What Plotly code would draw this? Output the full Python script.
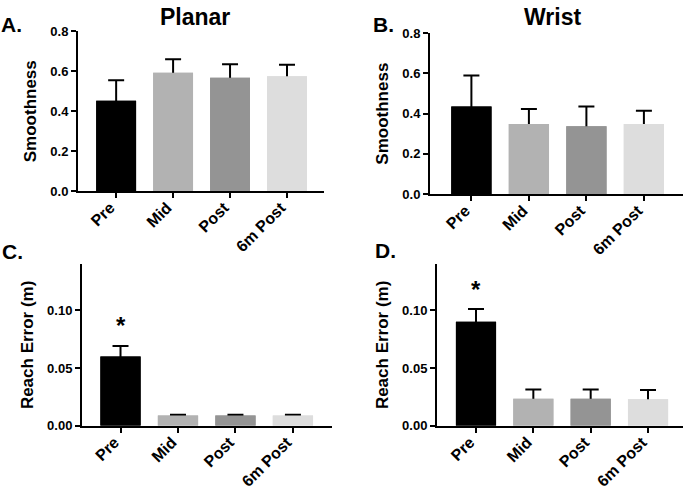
import plotly.graph_objects as go

categories = ["Pre", "Mid", "Post", "6m Post"]
colors = ["#000000", "#b2b2b2", "#949494", "#dddddd"]

planar_smooth = [0.452, 0.592, 0.567, 0.575]
planar_smooth_err = [0.103, 0.068, 0.068, 0.058]
wrist_smooth = [0.435, 0.348, 0.337, 0.348]
wrist_smooth_err = [0.155, 0.075, 0.098, 0.066]
planar_reach = [0.060, 0.0090, 0.0090, 0.0090]
planar_reach_err = [0.0090, 0.0005, 0.0005, 0.0005]
wrist_reach = [0.090, 0.0235, 0.0235, 0.0230]
wrist_reach_err = [0.0110, 0.0080, 0.0080, 0.0080]

sig_planar = [0.0865]
sig_wrist = [0.1175]

W, H = 687, 492
FONT = "Liberation Sans"

fig = go.Figure()

panels = [
    (planar_smooth, planar_smooth_err, "x", "y", (78, 324), (25, 190), [-0.67, 3.65], [0, 0.8],
     [0, 0.2, 0.4, 0.6, 0.8], ["0.0", "0.2", "0.4", "0.6", "0.8"], "Smoothness"),
    (wrist_smooth, wrist_smooth_err, "x2", "y2", (430, 683), (27, 193), [-0.72, 3.68], [0, 0.8],
     [0, 0.2, 0.4, 0.6, 0.8], ["0.0", "0.2", "0.4", "0.6", "0.8"], "Smoothness"),
    (planar_reach, planar_reach_err, "x3", "y3", (82, 332), (265, 432), [-0.67, 3.68], [0, 0.14],
     [0, 0.05, 0.10], ["0.00", "0.05", "0.10"], "Reach Error (m)"),
    (wrist_reach, wrist_reach_err, "x4", "y4", (437, 683), (265, 432), [-0.68, 3.61], [0, 0.14],
     [0, 0.05, 0.10], ["0.00", "0.05", "0.10"], "Reach Error (m)"),
]

for i, (vals, errs, xa, ya, xd, yd, xr, yr, tv, tt, ytitle) in enumerate(panels):
    xs = list(range(len(categories)))
    # error bars drawn first, so the bar on top hides their lower half
    fig.add_trace(go.Bar(
        x=xs, y=vals, width=0.7,
        marker=dict(color=colors, line=dict(width=0)),
        error_y=dict(type="data", array=errs, symmetric=True,
                     color="black", thickness=2, width=8),
        xaxis=xa, yaxis=ya, showlegend=False, hoverinfo="skip",
    ))
    fig.add_trace(go.Bar(
        x=xs, y=vals, width=0.7,
        marker=dict(color=colors, line=dict(width=0)),
        xaxis=xa, yaxis=ya, showlegend=False,
    ))
    suffix = "" if i == 0 else str(i + 1)
    fig.layout["xaxis" + suffix] = dict(
        domain=[xd[0] / W, xd[1] / W], range=xr, anchor=ya,
        tickmode="array", tickvals=xs, ticktext=categories,
        tickangle=-45, ticks="outside", ticklen=5, tickwidth=2, tickcolor="black",
        ticklabelstandoff=-6, ticklabelshift=-6,
        showline=True, linewidth=2, linecolor="black", showgrid=False, zeroline=False,
        tickfont=dict(family=FONT, size=16, color="black", weight=700), fixedrange=True,
    )
    fig.layout["yaxis" + suffix] = dict(
        domain=[1 - yd[1] / H, 1 - yd[0] / H], range=yr, anchor=xa,
        tickmode="array", tickvals=tv, ticktext=tt,
        ticks="outside", ticklen=5, tickwidth=2, tickcolor="black",
        showline=True, linewidth=2, linecolor="black", showgrid=False, zeroline=False,
        tickfont=dict(family=FONT, size=13, color="black", weight=700),
        title=dict(text=ytitle, font=dict(family=FONT, size=17, color="black", weight=700), standoff=9),
        fixedrange=True,
    )

annotations = [
    dict(text="Planar", x=195 / W, y=1 - 10 / H, xref="paper", yref="paper", showarrow=False,
         font=dict(family=FONT, size=23, color="black", weight=700), xanchor="center", yanchor="middle"),
    dict(text="Wrist", x=552 / W, y=1 - 10 / H, xref="paper", yref="paper", showarrow=False,
         font=dict(family=FONT, size=23, color="black", weight=700), xanchor="center", yanchor="middle"),
]
for lbl, (px, py) in zip(["A.", "B.", "C.", "D."], [(11, 18), (383, 18), (12, 252), (385, 251)]):
    annotations.append(dict(text=lbl, x=px / W, y=1 - py / H, xref="paper", yref="paper",
                            showarrow=False, xanchor="center", yanchor="middle",
                            font=dict(family=FONT, size=21, color="black", weight=700)))
annotations.append(dict(text="*", x=0, y=sig_planar[0], xref="x3", yref="y3", showarrow=False,
                        yanchor="middle", font=dict(family=FONT, size=24, color="black", weight=700)))
annotations.append(dict(text="*", x=0, y=sig_wrist[0], xref="x4", yref="y4", showarrow=False,
                        yanchor="middle", font=dict(family=FONT, size=24, color="black", weight=700)))

fig.update_layout(
    width=W, height=H, margin=dict(l=0, r=0, t=0, b=0),
    paper_bgcolor="white", plot_bgcolor="white",
    annotations=annotations, barmode="overlay",
)

fig.write_html("out.html", config={"displayModeBar": False},
               post_script="document.body.style.margin='0';document.body.style.overflow='hidden';")
